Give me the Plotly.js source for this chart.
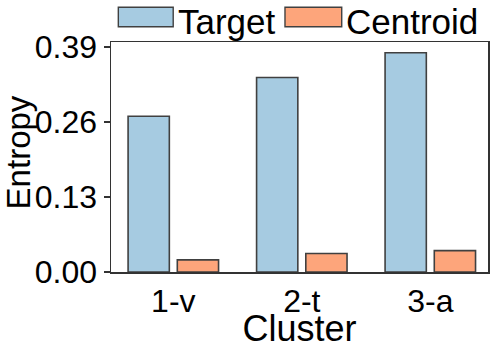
<!DOCTYPE html>
<html>
<head>
<meta charset="utf-8">
<script src="https://cdn.plot.ly/plotly-3.0.1.min.js"></script>
<style>
  html, body { margin: 0; padding: 0; background: #fff; }
  #chart { width: 493px; height: 349px; }
</style>
</head>
<body>
<div id="chart"></div>
<script>
// data
const clusters = ['1-v', '2-t', '3-a'];
const seriesNames = ['Target', 'Centroid'];
const targetEntropy = [0.270, 0.337, 0.380];
const centroidEntropy = [0.021, 0.032, 0.037];
const yTicks = [0.00, 0.13, 0.26, 0.39];

const FONT = 'Liberation Sans, Arial, sans-serif';
const colors = ['#a6cbe1', '#fda57b'];
const edge = '#404040';

const traces = [
    {
        x: clusters,
        y: targetEntropy,
        type: 'bar',
        name: seriesNames[0],
        offset: -0.352,
        width: 0.321,
        marker: { color: colors[0], line: { color: edge, width: 1.6 } },
        showlegend: false
    },
    {
        x: clusters,
        y: centroidEntropy,
        type: 'bar',
        name: seriesNames[1],
        offset: 0.031,
        width: 0.321,
        marker: { color: colors[1], line: { color: edge, width: 1.6 } },
        showlegend: false
    }
];

// legend drawn by hand, matplotlib style (wide swatches above the axes)
const swatches = [
    { x0: 0.0194, x1: 0.165, tx: 0.172 },
    { x0: 0.4615, x1: 0.612, tx: 0.618 }
];
const shapes = swatches.map((s, i) => ({
    type: 'rect', xref: 'paper', yref: 'paper',
    x0: s.x0, x1: s.x1, y0: 1.0665, y1: 1.151,
    fillcolor: colors[i], line: { color: edge, width: 1.4 }
}));
const annotations = swatches.map((s, i) => ({
    text: seriesNames[i], xref: 'paper', yref: 'paper',
    x: s.tx, y: 1.1826, xanchor: 'left', yanchor: 'top',
    showarrow: false, font: { family: FONT, size: 35, color: '#000' }
}));
// y axis title as annotation so it can sit at the far left like the reference
annotations.push({
    text: 'Entropy', xref: 'paper', yref: 'paper',
    x: -0.2467, y: 0.52, xanchor: 'center', yanchor: 'middle',
    textangle: -90, showarrow: false,
    font: { family: FONT, size: 33, color: '#000' }
});

const layout = {
    width: 493,
    height: 349,
    margin: { l: 111, r: 5, t: 42, b: 77 },
    paper_bgcolor: '#fff',
    plot_bgcolor: '#fff',
    barmode: 'overlay',
    font: { family: FONT, color: '#000' },
    xaxis: {
        type: 'category',
        range: [-0.485, 2.449],
        showgrid: false,
        zeroline: false,
        showline: true,
        mirror: true,
        linecolor: '#333',
        linewidth: 1.5,
        ticks: '',
        tickfont: { family: FONT, size: 32, color: '#000' },
        title: { text: 'Cluster', font: { family: FONT, size: 36, color: '#000' }, standoff: 0 }
    },
    yaxis: {
        range: [0, 0.3986],
        tickvals: yTicks,
        ticktext: yTicks.map(v => v.toFixed(2)),
        showgrid: false,
        zeroline: false,
        showline: true,
        mirror: true,
        linecolor: '#333',
        linewidth: 1.5,
        ticks: 'outside',
        ticklen: 6,
        tickwidth: 1.5,
        tickcolor: '#333',
        tickfont: { family: FONT, size: 32, color: '#000' }
    },
    shapes: shapes,
    annotations: annotations
};

Plotly.newPlot('chart', traces, layout, { displayModeBar: false, staticPlot: true });
</script>
</body>
</html>
